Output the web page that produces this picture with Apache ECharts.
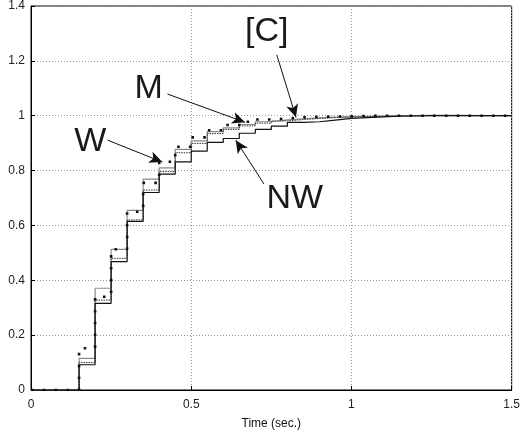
<!DOCTYPE html>
<html><head><meta charset="utf-8">
<script src="https://cdn.jsdelivr.net/npm/echarts@6/dist/echarts.min.js"></script>
<style>html,body{margin:0;padding:0;background:#fff}#c{width:523px;height:435px}</style>
</head><body><div id="c"></div>
<script>
var times = [0,0.05,0.1,0.15,0.2,0.25,0.3,0.35,0.4,0.45,0.5,0.55,0.6,0.65,0.7,0.75,0.8,0.85,0.9,0.95,1.0,1.05,1.1,1.15,1.2,1.25,1.3,1.35,1.4,1.45,1.5];
var seriesW  = [0,0,0,0.115,0.371,0.513,0.655,0.769,0.810,0.877,0.908,0.942,0.956,0.968,0.978,0.985,0.989,0.992,0.995,0.997,0.998,0.999,1.000,1.000,1.001,1.001,1.001,1.000,1.000,1.000,1.000];
var seriesM  = [0,0,0,0.100,0.328,0.480,0.620,0.729,0.796,0.865,0.899,0.935,0.950,0.963,0.973,0.981,0.986,0.990,0.993,0.995,0.997,0.998,0.999,1.000,1.000,1.000,1.000,1.000,1.000,1.000,1.000];
var seriesNW = [0,0,0,0.092,0.316,0.468,0.615,0.720,0.787,0.832,0.871,0.903,0.917,0.936,0.950,0.962,0.976,0.978,0.984,0.990,0.993,0.996,0.998,0.999,1.000,1.000,1.000,1.000,1.000,1.000,1.000];
var seriesC  = [0,0,0,0.152,0.340,0.513,0.650,0.755,0.832,0.887,0.921,0.947,0.966,0.978,0.986,0.990,0.994,0.996,0.997,0.998,0.999,1.000,1.000,1.000,1.000,1.000,1.000,1.000,1.000,1.000,1.000];
var xTicks = [0, 0.5, 1, 1.5];
var yTicks = [0, 0.2, 0.4, 0.6, 0.8, 1, 1.2, 1.4];
var annotations = [
  {name:'W',   text:[0.185, 0.905], tail:[0.239, 0.911], head:[0.410, 0.831]},
  {name:'M',   text:[0.367, 1.100], tail:[0.426, 1.079], head:[0.668, 0.976]},
  {name:'[C]', text:[0.736, 1.305], tail:[0.767, 1.222], head:[0.827, 0.994]},
  {name:'NW',  text:[0.823, 0.696], tail:[0.727, 0.751], head:[0.639, 0.911]}
];

function pairs(v){ return times.map(function(t,i){ return [t, v[i]]; }); }
var FONT = '"Liberation Sans", Arial, sans-serif';
var chart = echarts.init(document.getElementById('c'));
chart.setOption({
  animation:false,
  backgroundColor:'#fff',
  grid:{left:31, right:9, top:6, bottom:45, show:true, borderColor:'#000', borderWidth:1, containLabel:false},
  xAxis:{type:'value', min:0, max:1.5, interval:0.5,
    name:'Time (sec.)', nameLocation:'middle', nameGap:28,
    nameTextStyle:{fontFamily:FONT, fontSize:12, color:'#111'},
    axisLine:{lineStyle:{color:'#000', width:1}},
    axisTick:{inside:true, length:4, lineStyle:{color:'#000'}},
    axisLabel:{fontFamily:FONT, fontSize:12, color:'#222', margin:9,
      formatter:function(v){ return xTicks.indexOf(v)>=0 ? String(v) : ''; }},
    splitLine:{show:true, lineStyle:{color:'#9a9a9a', type:[1,2], width:1}}
  },
  yAxis:{type:'value', min:0, max:1.4, interval:0.2,
    axisLine:{show:true, lineStyle:{color:'#000', width:1}},
    axisTick:{show:true, inside:true, length:4, lineStyle:{color:'#000'}},
    axisLabel:{fontFamily:FONT, fontSize:12, color:'#222', margin:6,
      formatter:function(v){ var r=Math.round(v*10)/10; return yTicks.indexOf(r)>=0 ? String(r) : ''; }},
    splitLine:{show:true, lineStyle:{color:'#9a9a9a', type:[1,2], width:1}}
  },
  series:[
    {name:'W', type:'line', step:'end', data:pairs(seriesW), showSymbol:false,
      lineStyle:{color:'#8a8a8a', width:1.2}, z:2},
    {name:'M', type:'line', step:'end', data:pairs(seriesM), showSymbol:false,
      lineStyle:{color:'#333', width:1, type:[1.5,1]}, z:3},
    {name:'NW', type:'line', step:'end', data:pairs(seriesNW), showSymbol:false,
      lineStyle:{color:'#111', width:1.2}, z:4},
    {name:'[C]', type:'line', step:'end', data:pairs(seriesC), showSymbol:false,
      lineStyle:{color:'#111', width:2.6, type:[2.6,9.2], cap:'butt'}, z:5,
      markLine:{silent:true, symbol:['none','arrow'], symbolSize:[9,13],
        lineStyle:{color:'#111', width:1, type:'solid'}, label:{show:false},
        data:annotations.map(function(a){ return [{coord:a.tail},{coord:a.head}]; })},
      markPoint:{silent:true, symbol:'circle', symbolSize:0,
        label:{show:true, position:'inside', fontFamily:FONT, fontSize:34, color:'#1a1a1a',
          formatter:function(p){ return p.name; }},
        data:annotations.map(function(a){ return {name:a.name, coord:a.text}; })}
    }
  ]
});
</script></body></html>
